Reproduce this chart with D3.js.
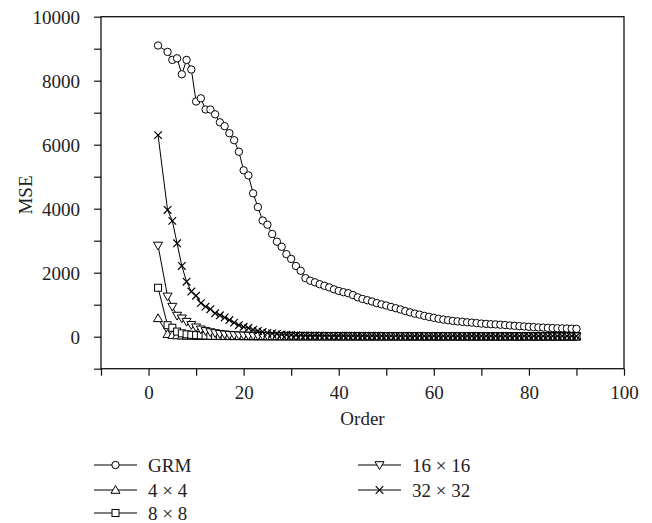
<!DOCTYPE html>
<html>
<head>
<meta charset="utf-8">
<script src="https://cdn.jsdelivr.net/npm/d3@7"></script>
<style>
	body { margin: 0; background: #fff; }
	text { font-family: "Liberation Serif", "DejaVu Serif", serif; fill: #222; }
</style>
</head>
<body>
<div id="chart"></div>
<script>

// order values (x=3 is not in the picture)
const order = [2,
	4, 5, 6, 7, 8, 9, 10, 11, 12, 13,
	14, 15, 16, 17, 18, 19, 20, 21, 22, 23,
	24, 25, 26, 27, 28, 29, 30, 31, 32, 33,
	34, 35, 36, 37, 38, 39, 40, 41, 42, 43,
	44, 45, 46, 47, 48, 49, 50, 51, 52, 53,
	54, 55, 56, 57, 58, 59, 60, 61, 62, 63,
	64, 65, 66, 67, 68, 69, 70, 71, 72, 73,
	74, 75, 76, 77, 78, 79, 80, 81, 82, 83,
	84, 85, 86, 87, 88, 89, 90];

const grm = [9100,
	8900, 8650, 8700, 8200, 8650, 8350, 7350, 7450, 7100, 7100,
	6950, 6700, 6580, 6360, 6140, 5780, 5200, 5040, 4480, 4050,
	3630, 3500, 3210, 2970, 2810, 2580, 2430, 2210, 2060, 1830,
	1750, 1700, 1640, 1590, 1540, 1480, 1430, 1390, 1360, 1300,
	1230, 1180, 1140, 1100, 1050, 1010, 975, 930, 890, 850,
	800, 760, 720, 690, 650, 620, 590, 560, 535, 515,
	495, 480, 465, 450, 440, 425, 410, 400, 390, 385,
	375, 365, 350, 340, 330, 320, 310, 300, 290, 285,
	275, 270, 265, 260, 255, 250, 245];

const b4 = [575,
	80, 50, 38, 32, 28, 25, 22, 20, 18, 17,
	16, 15, 14, 13, 12, 12, 11, 11, 10, 10,
	10, 9, 9, 9, 9, 8, 8, 8, 8, 8,
	8, 7, 7, 7, 7, 7, 7, 7, 7, 6,
	6, 6, 6, 6, 6, 6, 6, 6, 6, 6,
	6, 5, 5, 5, 5, 5, 5, 5, 5, 5,
	5, 5, 5, 5, 5, 5, 5, 5, 5, 5,
	4, 4, 4, 4, 4, 4, 4, 4, 4, 4,
	4, 4, 4, 4, 4, 4, 4];

const b8 = [1530,
	360, 280, 160, 105, 75, 60, 50, 42, 36, 32,
	29, 27, 25, 23, 22, 21, 20, 19, 18, 18,
	17, 17, 16, 16, 15, 15, 15, 14, 14, 14,
	14, 13, 13, 13, 13, 13, 12, 12, 12, 12,
	12, 12, 11, 11, 11, 11, 11, 11, 11, 10,
	10, 10, 10, 10, 10, 10, 10, 10, 10, 10,
	10, 10, 9, 9, 9, 9, 9, 9, 9, 9,
	9, 9, 9, 9, 9, 9, 8, 8, 8, 8,
	8, 8, 8, 8, 8, 8, 8];

const b16 = [2850,
	1260, 940, 660, 575, 470, 370, 295, 230, 180, 145,
	115, 90, 75, 62, 52, 45, 40, 36, 33, 31,
	30, 29, 28, 27, 26, 26, 25, 25, 24, 24,
	23, 23, 23, 22, 22, 22, 22, 21, 21, 21,
	21, 21, 20, 20, 20, 20, 20, 20, 19, 19,
	19, 19, 19, 19, 19, 18, 18, 18, 18, 18,
	18, 18, 18, 17, 17, 17, 17, 17, 17, 17,
	17, 17, 16, 16, 16, 16, 16, 16, 16, 16,
	16, 16, 15, 15, 15, 15, 15];

const b32 = [6300,
	3960, 3620, 2920, 2210, 1720, 1410, 1280, 1050, 940, 860,
	730, 670, 600, 520, 440, 360, 310, 270, 220, 180,
	150, 120, 100, 85, 70, 60, 52, 46, 42, 40,
	38, 36, 35, 34, 33, 32, 31, 30, 30, 29,
	29, 28, 28, 27, 27, 26, 26, 26, 25, 25,
	25, 24, 24, 24, 23, 23, 23, 23, 22, 22,
	22, 22, 21, 21, 21, 21, 21, 20, 20, 20,
	20, 20, 20, 19, 19, 19, 19, 19, 19, 18,
	18, 18, 18, 18, 18, 18, 17];

const seriesNames = ["GRM", "4 × 4", "8 × 8", "16 × 16", "32 × 32"];
const seriesValues = [grm, b4, b8, b16, b32];
const seriesMarks = ["circle", "up", "square", "down", "cross"];

const xTicks = [-10, 0, 10, 20, 30, 40, 50, 60, 70, 80, 90, 100];
const yTicks = [-1000, 0, 1000, 2000, 3000, 4000, 5000, 6000, 7000, 8000, 9000, 10000];

let width = 652,
	height = 523;

let svg = d3.select("#chart")
	.append("svg")
		.attr("width", width)
		.attr("height", height);

let x = d3.scaleLinear().domain([-10, 100]).range([101, 624]);
let y = d3.scaleLinear().domain([-1000, 10000]).range([368.7, 16.7]);

// frame
svg.append("rect")
	.attr("x", x(-10)).attr("y", y(10000))
	.attr("width", x(100) - x(-10)).attr("height", y(-1000) - y(10000))
	.attr("fill", "none").attr("stroke", "#111").attr("stroke-width", 1.3);

let xAxis = svg.append("g")
	.attr("transform", "translate(0," + y(-1000) + ")")
	.call(d3.axisBottom(x).tickValues(xTicks).tickSize(7).tickSizeOuter(0)
		.tickFormat(d => (d % 20 === 0 ? d : "")));

let yAxis = svg.append("g")
	.attr("transform", "translate(" + x(-10) + ",0)")
	.call(d3.axisLeft(y).tickValues(yTicks).tickSize(7).tickSizeOuter(0)
		.tickFormat(d => (d % 2000 === 0 ? d : "")));

[xAxis, yAxis].forEach(function(g) {
	g.select(".domain").remove();
	g.selectAll("line").attr("stroke", "#111").attr("stroke-width", 1.2);
	g.selectAll("text")
		.style("font-family", "Liberation Serif, serif")
		.style("font-size", "19px")
		.attr("fill", "#222");
});
xAxis.selectAll("text").attr("y", 10).attr("dy", "1.05em");
yAxis.selectAll("text").attr("x", -21).attr("dy", "0.34em");

svg.append("text")
	.attr("x", (x(-10) + x(100)) / 2)
	.attr("y", 425)
	.attr("text-anchor", "middle")
	.style("font-size", "19px")
	.text("Order");

svg.append("text")
	.attr("transform", "translate(32,195) rotate(-90)")
	.attr("text-anchor", "middle")
	.style("font-size", "19px")
	.text("MSE");

// markers
function drawMark(g, kind, cx, cy)
{
	if (kind === "circle") {
		g.append("circle").attr("cx", cx).attr("cy", cy).attr("r", 3.7)
			.attr("fill", "#fff").attr("stroke", "#000").attr("stroke-width", 1);
	} else if (kind === "square") {
		g.append("rect").attr("x", cx - 3.5).attr("y", cy - 3.5)
			.attr("width", 7).attr("height", 7)
			.attr("fill", "#fff").attr("stroke", "#000").attr("stroke-width", 1);
	} else if (kind === "up" || kind === "down") {
		let s = kind === "up" ? 1 : -1;
		let pts = [[cx, cy - 4.5 * s], [cx - 4.5, cy + 3.3 * s], [cx + 4.5, cy + 3.3 * s]];
		g.append("path").attr("d", "M" + pts.join("L") + "Z")
			.attr("fill", "#fff").attr("stroke", "#000").attr("stroke-width", 1);
	} else {
		g.append("path")
			.attr("d", "M" + (cx - 3.8) + "," + (cy - 3.8) + "L" + (cx + 3.8) + "," + (cy + 3.8) +
				"M" + (cx - 3.8) + "," + (cy + 3.8) + "L" + (cx + 3.8) + "," + (cy - 3.8))
			.attr("stroke", "#000").attr("stroke-width", 1.2);
	}
}

let line = d3.line()
	.x(d => x(d[0]))
	.y(d => y(d[1]));

seriesValues.forEach(function(vals, i) {
	let pts = order.map((o, k) => [o, vals[k]]);
	let g = svg.append("g").attr("class", "series");
	g.append("path")
		.datum(pts)
		.attr("d", line)
		.attr("fill", "none")
		.attr("stroke", "#000")
		.attr("stroke-width", 1);
	pts.forEach(p => drawMark(g, seriesMarks[i], x(p[0]), y(p[1])));
});

// legend, two columns
let legendPos = [[94, 465], [94, 490], [94, 513], [358, 465], [358, 490]];
seriesNames.forEach(function(name, i) {
	let lx = legendPos[i][0], ly = legendPos[i][1];
	let g = svg.append("g").attr("class", "legend");
	g.append("line").attr("x1", lx).attr("x2", lx + 43).attr("y1", ly).attr("y2", ly)
		.attr("stroke", "#000").attr("stroke-width", 1);
	drawMark(g, seriesMarks[i], lx + 21.5, ly);
	g.append("text")
		.attr("x", lx + 54)
		.attr("y", ly)
		.attr("dy", "0.35em")
		.style("font-size", "19px")
		.text(name);
});

</script>
</body>
</html>
